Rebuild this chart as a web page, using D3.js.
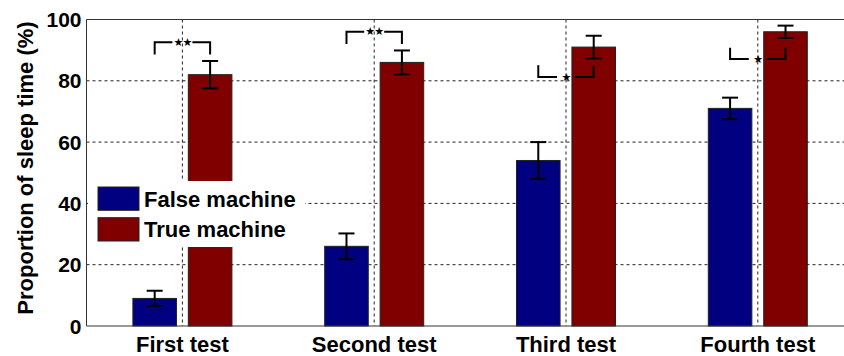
<!DOCTYPE html>
<html>
<head>
<meta charset="utf-8">
<script src="https://cdn.jsdelivr.net/npm/d3@7"></script>
<style>
  body { margin: 0; background: #fff; }
  svg { display: block; font-family: "Liberation Sans", Arial, sans-serif; font-weight: bold; }
</style>
</head>
<body>
<svg id="chart"></svg>
<script>
// values
const categories = ["First test", "Second test", "Third test", "Fourth test"];
const series = ["False machine", "True machine"];
const falseMachine = [9, 26, 54, 71];
const trueMachine = [82, 86, 91, 96];
const falseErr = [2.5, 4.2, 6, 3.5];
const trueErr = [4.5, 3.9, 3.7, 2];
const yTicks = [0, 20, 40, 60, 80, 100];
// significance brackets: marker, level of the bar line, level the legs reach to
const sigMarks = ["**", "**", "*", "*"];
const sigLevel = [92.6, 96, 81.2, 87.1];
const sigLeg = [88.6, 92, 85.1, 90.8];

function drawChart(){
    const width = 844;
    const height = 356;
    const left = 86.5, top = 19.5, bottom = 326;
    const step = 191.8;

    const svg = d3.select("#chart")
        .attr("width", width)
        .attr("height", height);

    const x = d3.scaleBand()
        .domain(categories)
        .range([left, left + step * categories.length]);

    const xSub = d3.scaleBand()
        .domain(series)
        .range([-49.5, 49.5])
        .paddingInner(0.214);

    const y = d3.scaleLinear()
        .domain([0, 100])
        .range([bottom, top]);

    const color = d3.scaleOrdinal()
        .domain(series)
        .range(["#000080", "#800000"]);

    const cx = c => x(c) + x.bandwidth() / 2;

    svg.append("defs").append("clipPath").attr("id", "plotClip")
        .append("rect")
        .attr("x", left).attr("y", 0)
        .attr("width", width - left).attr("height", height);

    const plot = svg.append("g").attr("clip-path", "url(#plotClip)");

    // horizontal grid
    plot.append("g")
        .selectAll("line")
        .data(yTicks.filter(t => t > 0 && t < 100))
        .enter()
        .append("line")
        .attr("x1", left)
        .attr("x2", width)
        .attr("y1", d => y(d))
        .attr("y2", d => y(d))
        .attr("stroke", "#222")
        .attr("stroke-width", 1)
        .attr("stroke-dasharray", "3,3");

    // vertical grid at category ticks
    plot.append("g")
        .selectAll("line")
        .data(categories)
        .enter()
        .append("line")
        .attr("x1", d => cx(d))
        .attr("x2", d => cx(d))
        .attr("y1", y(100))
        .attr("y2", y(0))
        .attr("stroke", "#222")
        .attr("stroke-width", 1)
        .attr("stroke-dasharray", "3,3");

    const rows = categories.map((c, i) => ({
        cat: c,
        bars: [
            {key: series[0], value: falseMachine[i], err: falseErr[i]},
            {key: series[1], value: trueMachine[i], err: trueErr[i]}
        ]
    }));

    const groups = plot.selectAll("g.group")
        .data(rows)
        .enter()
        .append("g")
        .attr("class", "group")
        .attr("transform", d => `translate(${cx(d.cat)},0)`);

    groups.selectAll("rect")
        .data(d => d.bars)
        .enter()
        .append("rect")
        .attr("x", d => xSub(d.key))
        .attr("y", d => y(d.value))
        .attr("width", xSub.bandwidth())
        .attr("height", d => y(0) - y(d.value))
        .attr("fill", d => color(d.key))
        .attr("stroke", "#222")
        .attr("stroke-width", 1);

    // error bars
    const eb = groups.selectAll("g.err")
        .data(d => d.bars)
        .enter()
        .append("g")
        .attr("class", "err")
        .attr("transform", d => `translate(${xSub(d.key) + xSub.bandwidth() / 2},0)`)
        .attr("stroke", "#000")
        .attr("stroke-width", 2);
    eb.append("line")
        .attr("y1", d => y(d.value + d.err))
        .attr("y2", d => y(d.value - d.err));
    eb.append("line")
        .attr("x1", -8).attr("x2", 8)
        .attr("y1", d => y(d.value + d.err))
        .attr("y2", d => y(d.value + d.err));
    eb.append("line")
        .attr("x1", -8).attr("x2", 8)
        .attr("y1", d => y(d.value - d.err))
        .attr("y2", d => y(d.value - d.err));

    // significance brackets
    const sig = plot.selectAll("g.sig")
        .data(categories.map((c, i) => ({cat: c, mark: sigMarks[i], level: sigLevel[i], leg: sigLeg[i]})))
        .enter()
        .append("g")
        .attr("class", "sig")
        .attr("transform", d => `translate(${cx(d.cat)},0)`);

    const xl = xSub(series[0]) + xSub.bandwidth() / 2;
    const xr = xSub(series[1]) + xSub.bandwidth() / 2;
    sig.append("path")
        .attr("d", d => {
            const gap = d.mark.length > 1 ? 10 : 9;
            return `M${xl},${y(d.leg)}V${y(d.level)}H${-gap}` +
                   `M${gap},${y(d.level)}H${xr}V${y(d.leg)}`;
        })
        .attr("fill", "none")
        .attr("stroke", "#000")
        .attr("stroke-width", 2);
    sig.append("text")
        .text(d => d.mark.replace(/\*/g, "\u2605"))
        .attr("x", 0)
        .attr("y", d => y(d.level))
        .attr("dy", "0.32em")
        .style("text-anchor", "middle")
        .style("font-family", "DejaVu Sans")
        .style("font-weight", "normal")
        .style("font-size", "11px")
        .style("letter-spacing", "-1px")
        .attr("fill", "#000");

    // frame
    svg.append("line")
        .attr("x1", left).attr("x2", width)
        .attr("y1", y(100)).attr("y2", y(100))
        .attr("stroke", "#333").attr("stroke-width", 1);
    svg.append("line")
        .attr("x1", left).attr("x2", width)
        .attr("y1", y(0)).attr("y2", y(0))
        .attr("stroke", "#333").attr("stroke-width", 1);
    svg.append("line")
        .attr("x1", left).attr("x2", left)
        .attr("y1", y(100)).attr("y2", y(0))
        .attr("stroke", "#333").attr("stroke-width", 1);

    // y tick labels
    svg.append("g")
        .selectAll("text")
        .data(yTicks)
        .enter()
        .append("text")
        .text(d => d)
        .attr("x", left - 5)
        .attr("y", d => y(d))
        .attr("dy", "0.36em")
        .style("text-anchor", "end")
        .style("font-size", "21px");

    // x labels
    svg.append("g")
        .selectAll("text")
        .data(categories)
        .enter()
        .append("text")
        .text(d => d)
        .attr("x", d => cx(d))
        .attr("y", 352)
        .style("text-anchor", "middle")
        .style("font-size", "22px");

    svg.append("text")
        .text("Proportion of sleep time (%)")
        .attr("transform", "translate(33,168) rotate(-90)")
        .style("text-anchor", "middle")
        .style("font-size", "22px");

    // legend
    const legend = svg.append("g");
    legend.append("rect")
        .attr("x", 88).attr("y", 181)
        .attr("width", 217).attr("height", 66)
        .attr("fill", "#fff");
    const item = legend.selectAll("g")
        .data(series)
        .enter()
        .append("g")
        .attr("transform", (d, i) => `translate(98,${187 + i * 30.7})`);
    item.append("rect")
        .attr("width", 41).attr("height", 23.3)
        .attr("fill", d => color(d))
        .attr("stroke", "#222");
    item.append("text")
        .text(d => d)
        .attr("x", 46)
        .attr("y", 19.7)
        .style("font-size", "22px");
}

drawChart();
</script>
</body>
</html>
